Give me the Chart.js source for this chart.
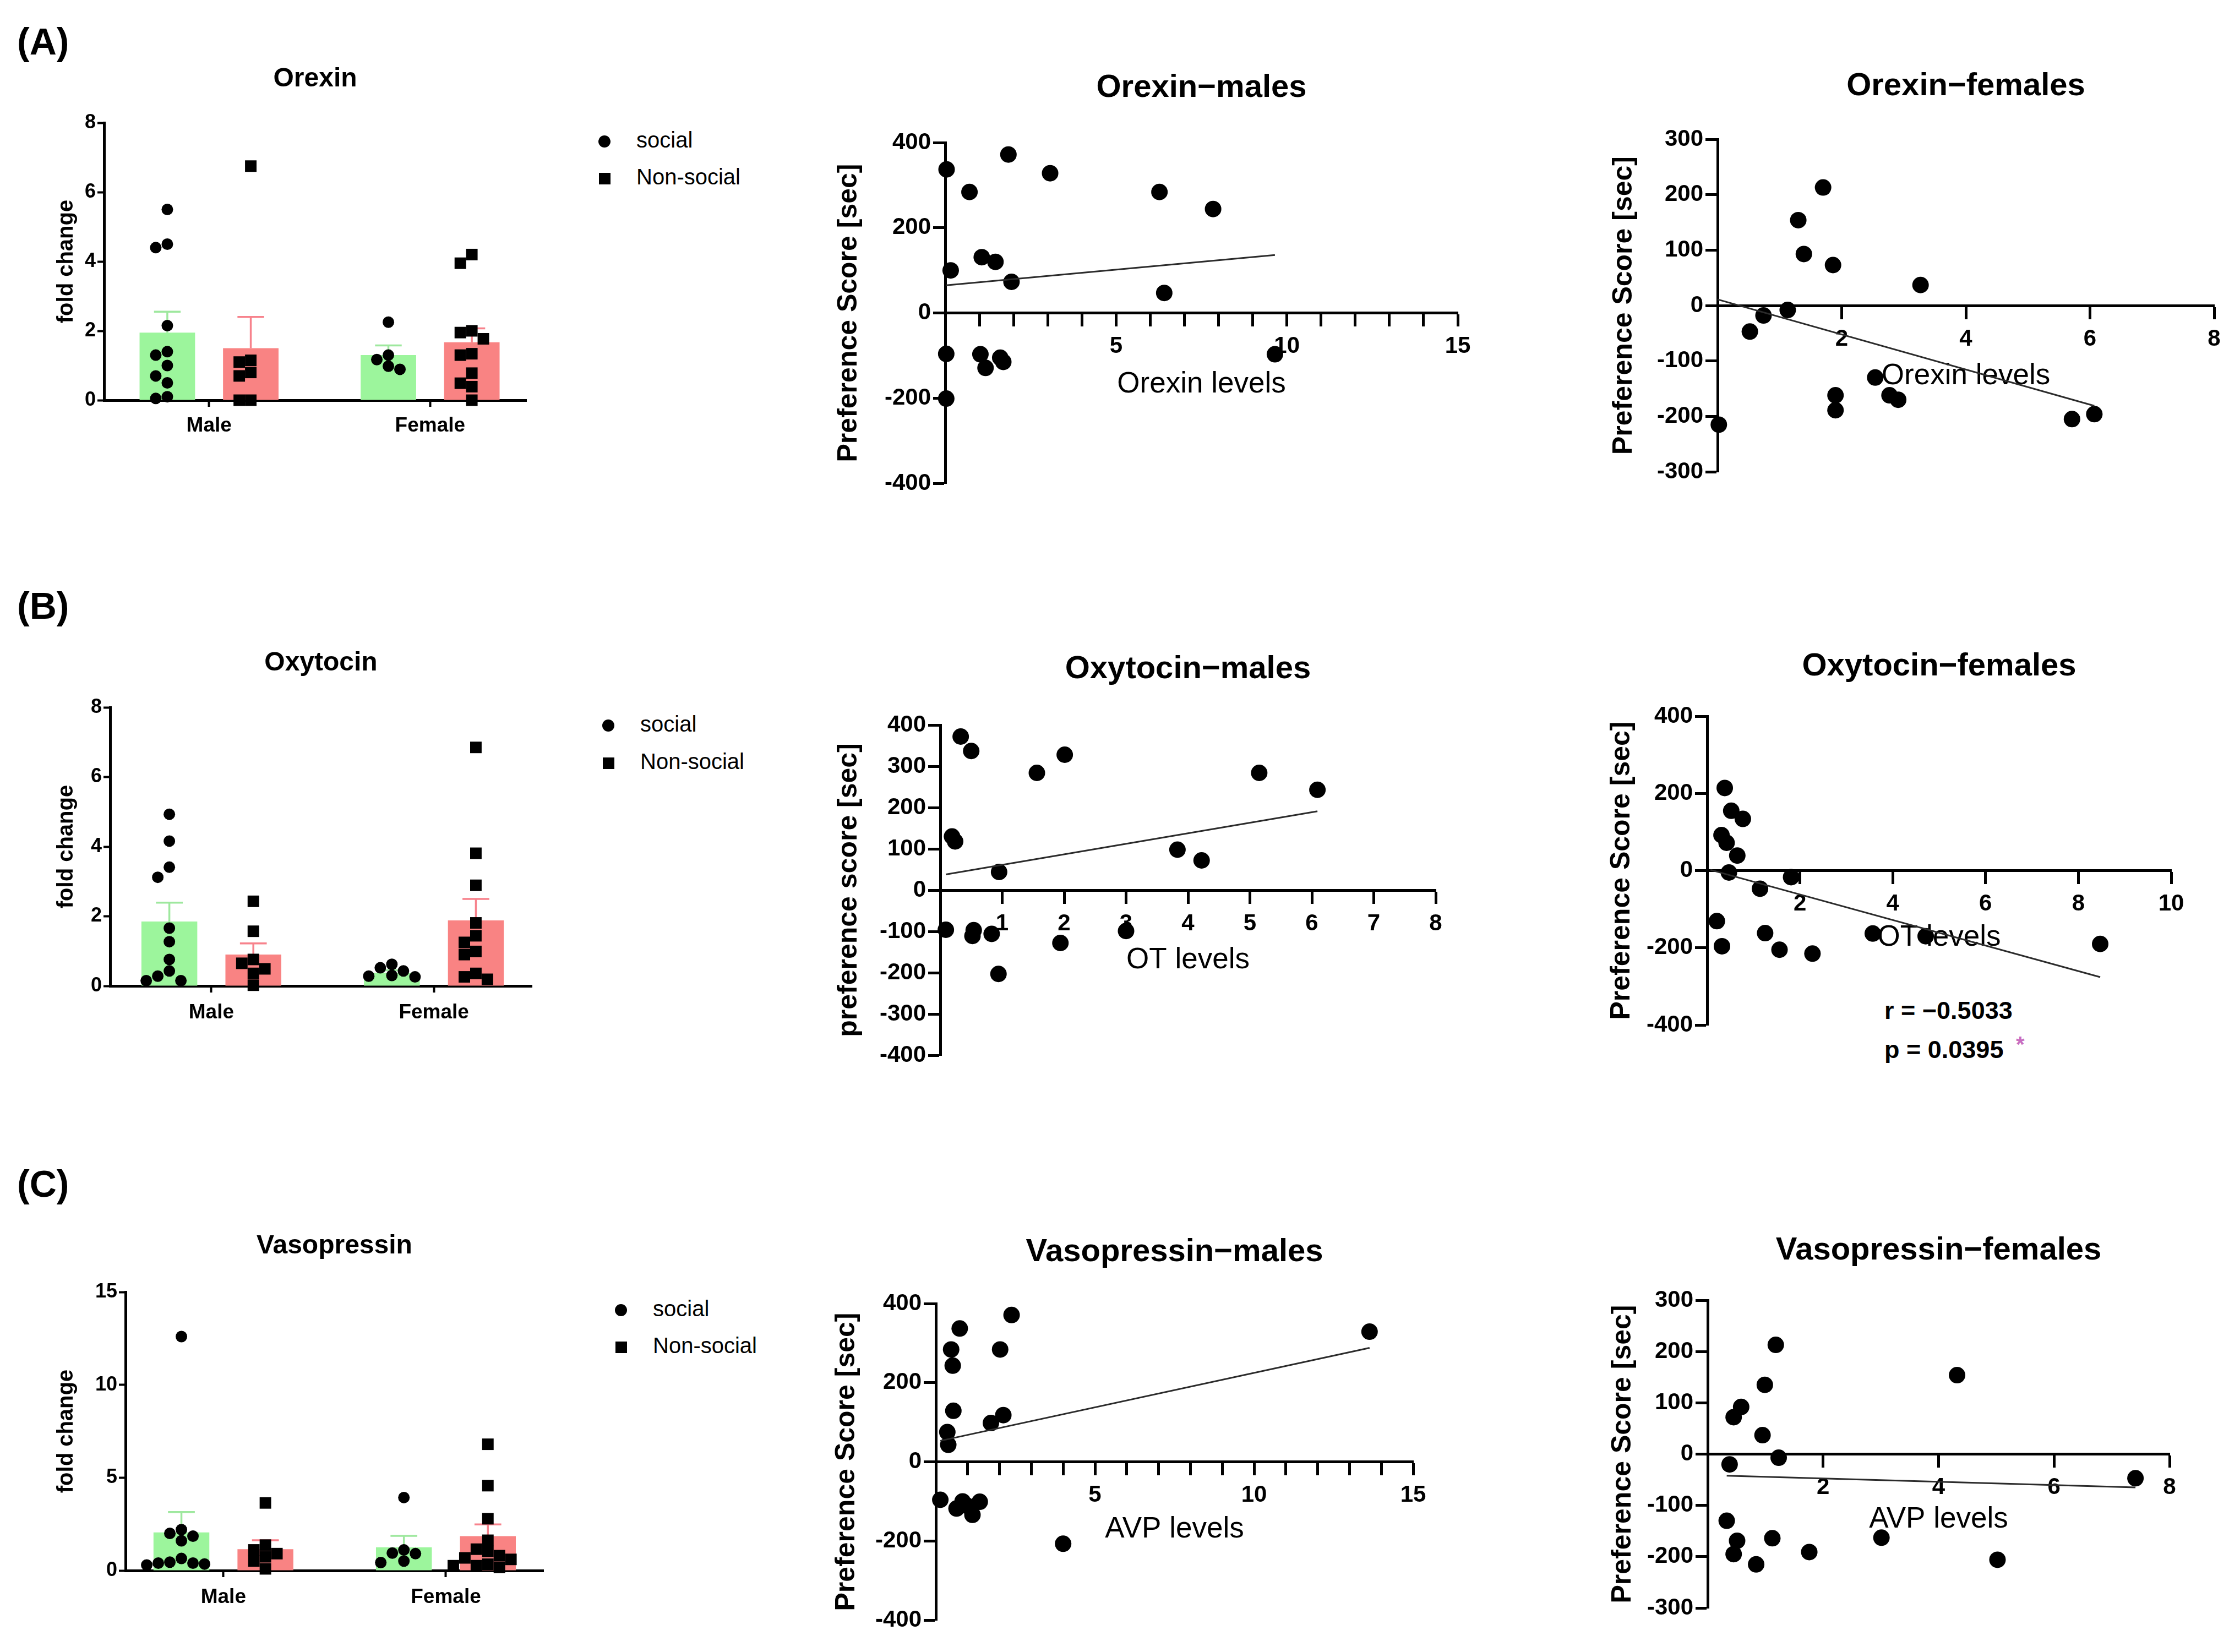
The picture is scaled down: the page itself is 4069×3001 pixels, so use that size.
<!DOCTYPE html>
<html>
<head>
<meta charset="utf-8">
<script src="https://cdn.jsdelivr.net/npm/chart.js@4.4.1/dist/chart.umd.min.js"></script>
<style>
html,body{margin:0;padding:0;background:#fff;}
body{width:4069px;height:3001px;position:relative;overflow:hidden;font-family:"Liberation Sans",Arial,sans-serif;color:#000;}
canvas{position:absolute;}
.txt{position:absolute;line-height:1;white-space:nowrap;color:#000;}
.panel{font-weight:bold;font-size:68px;}
.legtxt{font-size:40px;}
.mk{position:absolute;background:#000;}
.ann{font-weight:bold;font-size:45px;}
</style>
</head>
<body>
<div class="txt panel" style="left:31px;top:41px;">(A)</div>
<div class="txt panel" style="left:31px;top:1066px;">(B)</div>
<div class="txt panel" style="left:31px;top:2116px;">(C)</div>

<div id="legends"></div>

<div class="txt ann" style="left:3423px;top:1813px;">r = &#8722;0.5033</div>
<div class="txt ann" style="left:3423px;top:1884px;">p = 0.0395</div>
<div class="txt ann" style="left:3662px;top:1877px;color:#c86dc0;font-size:40px;">*</div>

<script>
// ---------------- DATA ----------------
const groupLabels = ['Male', 'Female'];
const legendLabels = ['social', 'Non-social'];

// Orexin fold change
const orexinSocialMale = [5.5, 4.4, 4.5, 2.15, 1.4, 1.3, 1.0, 0.7, 0.5, 0.05, 0.1];
const orexinNonSocialMale = [6.75, 1.1, 1.15, 0.7, 0.8, 0, 0];
const orexinSocialFemale = [2.25, 1.17, 1.3, 0.89, 0.98];
const orexinNonSocialFemale = [3.95, 4.2, 2.0, 1.95, 1.77, 1.34, 1.3, 0.78, 0.49, 0.39, 0.0];
const orexinSocialMean = [1.95, 1.30];
const orexinSocialSEM = [0.60, 0.28];
const orexinNonSocialMean = [1.50, 1.67];
const orexinNonSocialSEM = [0.90, 0.40];

// Oxytocin fold change
const oxySocialMale = [4.93, 4.16, 3.41, 3.12, 1.66, 1.27, 0.76, 0.43, 0.15, 0.15, 0.28];
const oxyNonSocialMale = [2.43, 1.57, 0.65, 0.76, 0.36, 0.49, 0.02];
const oxySocialFemale = [0.28, 0.52, 0.30, 0.43, 0.62, 0.26];
const oxyNonSocialFemale = [6.85, 3.81, 2.89, 1.81, 1.25, 1.44, 0.9, 0.99, 0.36, 0.19, 0.26];
const oxySocialMean = [1.85, 0.38];
const oxySocialSEM = [0.54, 0.07];
const oxyNonSocialMean = [0.90, 1.88];
const oxyNonSocialSEM = [0.32, 0.62];

// Vasopressin fold change
const avpSocialMale = [12.6, 2.2, 2.0, 1.85, 1.6, 0.65, 0.45, 0.4, 0.35, 0.3, 0.4];
const avpNonSocialMale = [3.64, 1.11, 1.37, 0.74, 0.91, 0.51, 0.09];
const avpSocialFemale = [3.93, 1.11, 0.94, 0.91, 0.43, 0.51];
const avpNonSocialFemale = [6.8, 4.57, 2.79, 1.63, 1.15, 1.03, 0.8, 0.68, 0.6, 0.26, 0.26, 0.34, 0.17];
const avpSocialMean = [2.05, 1.25];
const avpSocialSEM = [1.10, 0.62];
const avpNonSocialMean = [1.15, 1.85];
const avpNonSocialSEM = [0.48, 0.63];

// Correlations: x = hormone level, y = preference score [sec]
const orexinMalesX = [0.04, 0.71, 0.16, 1.07, 1.47, 1.85, 1.94, 3.07, 6.27, 7.84, 6.41, 9.65, 0.03, 1.03, 1.18, 1.61, 1.70, 0.03];
const orexinMalesY = [337, 284, 100, 131, 120, 372, 73, 328, 284, 244, 47, -97, -96, -97, -129, -105, -115, -201];
const orexinMalesFitX = [0.03, 9.65];
const orexinMalesFitY = [65, 136];

const orexinFemalesX = [0.02, 0.52, 0.74, 1.13, 1.30, 1.39, 1.70, 1.86, 1.90, 1.90, 2.54, 2.77, 2.91, 3.27, 5.71, 6.07];
const orexinFemalesY = [-215, -47, -18, -8, 154, 93, 213, 73, -162, -189, -130, -162, -170, 37, -205, -196];
const orexinFemalesFitX = [0.0, 6.07];
const orexinFemalesFitY = [11, -181];

const oxyMalesX = [0.33, 0.50, 0.19, 0.24, 0.95, 1.56, 2.01, 3.83, 4.22, 5.15, 6.09, 0.09, 0.52, 0.54, 0.83, 0.94, 1.94, 3.00];
const oxyMalesY = [372, 337, 130, 118, 44, 284, 328, 98, 72, 284, 243, -96, -111, -97, -106, -203, -128, -99];
const oxyMalesFitX = [0.09, 6.09];
const oxyMalesFitY = [38, 191];

const oxyFemalesX = [0.38, 0.52, 0.77, 0.31, 0.42, 0.65, 0.47, 1.81, 1.14, 0.21, 0.32, 1.25, 1.56, 2.27, 3.57, 4.71, 8.47];
const oxyFemalesY = [214, 155, 134, 92, 72, 39, -5, -17, -47, -131, -196, -162, -205, -215, -163, -170, -190];
const oxyFemalesFitX = [0.07, 8.47];
const oxyFemalesFitY = [2, -276];

const avpMalesX = [0.14, 0.65, 0.84, 0.98, 1.15, 1.38, 4.00, 0.36, 0.39, 0.55, 0.53, 0.48, 0.75, 1.73, 2.12, 2.02, 2.38, 13.63];
const avpMalesY = [-96, -118, -100, -111, -134, -101, -207, 75, 43, 129, 243, 284, 337, 98, 118, 284, 371, 329];
const avpMalesFitX = [0.14, 13.63];
const avpMalesFitY = [53, 288];

const avpFemalesX = [1.18, 4.32, 0.99, 0.58, 0.45, 0.95, 1.23, 0.38, 0.33, 0.51, 1.12, 0.45, 0.84, 1.76, 3.01, 5.02, 7.41];
const avpFemalesY = [213, 154, 135, 92, 72, 37, -7, -20, -130, -169, -164, -195, -215, -191, -163, -206, -47];
const avpFemalesFitX = [0.33, 7.41];
const avpFemalesFitY = [-42, -65];

// ---------------- STYLE ----------------
const FONT = "'Liberation Sans', Arial, sans-serif";
const GREEN = '#9cf59c', GREEN_ERR = '#9ee89e';
const RED = '#f98383', RED_ERR = '#f7828c';
Chart.defaults.font.family = FONT;
Chart.defaults.color = '#000';
Chart.defaults.animation = false;

function setupCanvas(left, top, right, bottom) {
  const cv = document.createElement('canvas');
  const l = Math.round(left), t = Math.round(top);
  const w = Math.round(right - l), h = Math.round(bottom - t);
  cv.width = w; cv.height = h;
  cv.style.left = l + 'px'; cv.style.top = t + 'px';
  cv.style.width = w + 'px'; cv.style.height = h + 'px';
  document.body.appendChild(cv);
  return {cv, l, t, w, h};
}

const errorBarPlugin = {
  id: 'errorBars',
  afterDatasetDraw(chart, args) {
    const ds = chart.data.datasets[args.index];
    if (!ds.sem) return;
    const ctx = chart.ctx, y = chart.scales.y;
    ctx.save();
    ctx.strokeStyle = ds.errColor;
    ctx.lineWidth = 3.5;
    args.meta.data.forEach((bar, i) => {
      const topPx = y.getPixelForValue(ds.data[i].y + ds.sem[i]);
      const cap = bar.width * 0.48;
      ctx.beginPath();
      ctx.moveTo(bar.x, bar.y);
      ctx.lineTo(bar.x, topPx);
      ctx.moveTo(bar.x - cap / 2, topPx);
      ctx.lineTo(bar.x + cap / 2, topPx);
      ctx.stroke();
    });
    ctx.restore();
  }
};

// spread the individual points of each group horizontally inside its bar (beeswarm)
function swarm(barChart, dotChart) {
  const xs = dotChart.scales.x, y = dotChart.scales.y;
  dotChart.data.datasets.forEach(ds => {
    const bar = barChart.getDatasetMeta(ds.swarm.bar).data[ds.swarm.cat];
    const cx = bar.x;
    const step = ds.pointStyle === 'rect' ? ds.pointRadius * Math.SQRT2 : ds.pointRadius * 2;
    const idx = ds.data.map((p, i) => i).sort((a, b) => ds.data[b].y - ds.data[a].y);
    const placed = [];
    const newData = ds.data.map(p => ({x: p.x, y: p.y}));
    idx.forEach(i => {
      const py = y.getPixelForValue(ds.data[i].y);
      for (const k of [0, -1, 1, -2, 2, -3, 3]) {
        const px = cx + k * step;
        if (!placed.some(q => Math.abs(q.x - px) < step * 0.9 && Math.abs(q.y - py) < step * 0.95)) {
          placed.push({x: px, y: py});
          newData[i].x = xs.getValueForPixel(px);
          break;
        }
      }
    });
    ds.data = newData;
  });
  dotChart.update('none');
}

function addLegend(cx, cy1, cy2, textLeft) {
  const box = document.getElementById('legends');
  const d = 22;
  box.insertAdjacentHTML('beforeend',
    `<div class="mk" style="left:${cx - d/2}px;top:${cy1 - d/2}px;width:${d}px;height:${d}px;border-radius:50%;"></div>` +
    `<div class="mk" style="left:${cx - 10.5}px;top:${cy2 - 10.5}px;width:21px;height:21px;"></div>` +
    `<div class="txt legtxt" style="left:${textLeft}px;top:${cy1 - 23}px;">${legendLabels[0]}</div>` +
    `<div class="txt legtxt" style="left:${textLeft}px;top:${cy2 - 23}px;">${legendLabels[1]}</div>`);
}

function makeBar(box, c) {
  const tF = 48, yF = 40, tkF = 36, cF = 37;
  const tLH = tF * 1.2, yLH = yF * 1.2, cLH = cF * 1.2;
  const padR = 40;
  const top = box.titleCY - tLH / 2;
  const left = box.yTitleCX - yLH / 2;
  const Hx = 90;
  const geo = setupCanvas(left, top, box.R + padR, box.B + Hx);
  const Wy = box.L - geo.l;
  const titlePB = box.T - geo.t - tLH;
  const catPad = box.labelCY - box.B - 12 - cLH / 2;
  const toXY = arr => arr.map((v, i) => ({x: i, y: v}));
  const catTicks = s => { s.ticks = groupLabels.map((g, i) => ({value: i})); };
  const barChart = new Chart(geo.cv, {
    type: 'bar',
    data: {datasets: [
      {label: legendLabels[0], data: toXY(c.sMean), sem: c.sSEM, backgroundColor: GREEN, errColor: GREEN_ERR,
       borderWidth: 0, categoryPercentage: 0.755, barPercentage: 0.665},
      {label: legendLabels[1], data: toXY(c.nMean), sem: c.nSEM, backgroundColor: RED, errColor: RED_ERR,
       borderWidth: 0, categoryPercentage: 0.755, barPercentage: 0.665}
    ]},
    plugins: [errorBarPlugin],
    options: {
      responsive: false, devicePixelRatio: 1, animation: false,
      layout: {padding: {left: 0, top: 0, right: padR, bottom: 0}},
      plugins: {
        legend: {display: false}, tooltip: {enabled: false},
        title: {display: true, text: c.title, fullSize: false, color: '#000',
                font: {size: tF, weight: 'bold', lineHeight: 1.2}, padding: {top: 0, bottom: titlePB}}
      },
      scales: {
        x: {type: 'linear', position: 'bottom', min: box.xMin, max: box.xMax, offset: false, z: 1,
            afterBuildTicks: catTicks,
            afterFit: s => { s.height = Hx; },
            border: {display: true, color: '#000', width: 5},
            grid: {display: true, offset: false, drawOnChartArea: false, drawTicks: true, tickLength: 12, tickWidth: 4, tickColor: '#000'},
            ticks: {padding: catPad, font: {size: cF, weight: 'bold'}, color: '#000', maxRotation: 0, autoSkip: false,
                    callback: v => groupLabels[v] !== undefined ? groupLabels[v] : ''}},
        y: {type: 'linear', position: 'left', min: 0, max: c.yMax,
            afterFit: s => { s.width = Wy; },
            border: {display: true, color: '#000', width: 5},
            grid: {display: true, drawOnChartArea: false, drawTicks: true, tickLength: 12, tickWidth: 4, tickColor: '#000'},
            ticks: {stepSize: c.yStep, padding: 3, font: {size: tkF, weight: 'bold'}, color: '#000'},
            title: {display: true, text: 'fold change', color: '#000', font: {size: yF, weight: 'bold', lineHeight: 1.2}, padding: 0}}
      }
    }
  });

  // individual animals: overlay chart sharing the same plotting area and axes ranges
  const ca = barChart.chartArea;
  const geo2 = setupCanvas(geo.l, geo.t, geo.l + geo.w, geo.t + geo.h);
  const groups = [
    {vals: c.sm, bar: 0, cat: 0, style: 'circle'},
    {vals: c.sf, bar: 0, cat: 1, style: 'circle'},
    {vals: c.nm, bar: 1, cat: 0, style: 'rect'},
    {vals: c.nf, bar: 1, cat: 1, style: 'rect'}
  ];
  const dotChart = new Chart(geo2.cv, {
    type: 'scatter',
    data: {datasets: groups.map(g => ({
      data: g.vals.map(v => ({x: g.cat, y: v})),
      pointStyle: g.style, pointRadius: g.style === 'rect' ? 14.8 : 10.5, pointHoverRadius: g.style === 'rect' ? 14.8 : 10.5,
      backgroundColor: '#000', borderWidth: 0, clip: false,
      swarm: {bar: g.bar, cat: g.cat}
    }))},
    options: {
      responsive: false, devicePixelRatio: 1, animation: false,
      layout: {padding: {left: ca.left, top: ca.top, right: geo.w - ca.right, bottom: geo.h - ca.bottom}},
      plugins: {legend: {display: false}, tooltip: {enabled: false}},
      scales: {
        x: {type: 'linear', display: false, min: box.xMin, max: box.xMax},
        y: {type: 'linear', display: false, min: 0, max: c.yMax}
      }
    }
  });
  swarm(barChart, dotChart);
}

function makeScatter(box, c) {
  const tF = 58, yF = 50, xF = 53, tkF = 42;
  const tLH = tF * 1.2, yLH = yF * 1.2, xLH = xF * 1.2;
  const padR = 50, padB = 40;
  const top = box.titleCY - tLH / 2;
  const left = box.yTitleCX - yLH / 2;
  const zeroPx = box.T + (box.B - box.T) * c.yMax / (c.yMax - c.yMin);
  const Hx = box.xTitleCY - zeroPx + xLH / 2;
  const geo = setupCanvas(left, top, box.R + padR, box.B + padB);
  const Wy = box.L - geo.l;
  const titlePB = box.T - geo.t - tLH;
  return new Chart(geo.cv, {
    type: 'scatter',
    data: {datasets: [
      {type: 'line', data: c.fitX.map((x, i) => ({x, y: c.fitY[i]})), borderColor: '#2b2b2b', borderWidth: 3,
       pointRadius: 0, pointHoverRadius: 0, fill: false, order: 0, clip: false},
      {type: 'scatter', data: c.xs.map((x, i) => ({x, y: c.ys[i]})), backgroundColor: '#000', borderWidth: 0,
       pointRadius: 15, pointHoverRadius: 15, order: 1, clip: false}
    ]},
    options: {
      responsive: false, devicePixelRatio: 1, animation: false,
      layout: {padding: {left: 0, top: 0, right: padR, bottom: padB}},
      plugins: {
        legend: {display: false}, tooltip: {enabled: false},
        title: {display: true, text: c.title, fullSize: false, color: '#000',
                font: {size: tF, weight: 'bold', lineHeight: 1.2}, padding: {top: 0, bottom: titlePB}}
      },
      scales: {
        x: {type: 'linear', position: {y: 0}, min: c.xMin, max: c.xMax,
            afterFit: s => { s.height = Hx; },
            border: {display: true, color: '#000', width: 5},
            grid: {display: true, drawOnChartArea: false, drawTicks: true, tickLength: 22, tickWidth: 5, tickColor: '#000'},
            ticks: {stepSize: c.xStep, autoSkip: false, padding: 14, maxRotation: 0, font: {size: tkF, weight: 'bold'}, color: '#000',
                    callback: v => (v === 0 || Math.round(v) % c.xLabelEvery !== 0) ? '' : String(v)},
            title: {display: true, text: c.xTitle, color: '#000', font: {size: xF, weight: 'normal', lineHeight: 1.2}, padding: 0}},
        y: {type: 'linear', position: 'left', min: c.yMin, max: c.yMax,
            afterFit: s => { s.width = Wy; },
            border: {display: true, color: '#000', width: 5},
            grid: {display: true, drawOnChartArea: false, drawTicks: true, tickLength: 22, tickWidth: 5, tickColor: '#000'},
            ticks: {stepSize: c.yStep, padding: 4, font: {size: tkF, weight: 'bold'}, color: '#000'},
            title: {display: true, text: c.yTitle, color: '#000', font: {size: yF, weight: 'bold', lineHeight: 1.2}, padding: 0}}
      }
    }
  });
}

// ---------------- BAR CHARTS ----------------
makeBar({L: 189, T: 223, R: 956, B: 727, titleCY: 144, yTitleCX: 121, labelCY: 774, xMin: -0.475, xMax: 1.435},
  {title: 'Orexin', yMax: 8, yStep: 2, sm: orexinSocialMale, sf: orexinSocialFemale, nm: orexinNonSocialMale, nf: orexinNonSocialFemale,
   sMean: orexinSocialMean, sSEM: orexinSocialSEM, nMean: orexinNonSocialMean, nSEM: orexinNonSocialSEM});
makeBar({L: 200, T: 1285, R: 966, B: 1791, titleCY: 1205, yTitleCX: 121, labelCY: 1840, xMin: -0.455, xMax: 1.44},
  {title: 'Oxytocin', yMax: 8, yStep: 2, sm: oxySocialMale, sf: oxySocialFemale, nm: oxyNonSocialMale, nf: oxyNonSocialFemale,
   sMean: oxySocialMean, sSEM: oxySocialSEM, nMean: oxyNonSocialMean, nSEM: oxyNonSocialSEM});
makeBar({L: 228, T: 2347, R: 987, B: 2853, titleCY: 2264, yTitleCX: 121, labelCY: 2902, xMin: -0.44, xMax: 1.438},
  {title: 'Vasopressin', yMax: 15, yStep: 5, sm: avpSocialMale, sf: avpSocialFemale, nm: avpNonSocialMale, nf: avpNonSocialFemale,
   sMean: avpSocialMean, sSEM: avpSocialSEM, nMean: avpNonSocialMean, nSEM: avpNonSocialSEM});

addLegend(1098, 257, 324, 1156);
addLegend(1105, 1318, 1386, 1163);
addLegend(1128, 2380, 2447, 1186);

// ---------------- SCATTER CHARTS ----------------
makeScatter({L: 1717, T: 259, R: 2648, B: 878, titleCY: 160, yTitleCX: 1542, xTitleCY: 698},
  {title: 'Orexin\u2212males', yTitle: 'Preference Score [sec]', xTitle: 'Orexin levels',
   xMin: 0, xMax: 15, xStep: 1, xLabelEvery: 5, yMin: -400, yMax: 400, yStep: 200,
   xs: orexinMalesX, ys: orexinMalesY, fitX: orexinMalesFitX, fitY: orexinMalesFitY});
makeScatter({L: 3120, T: 253, R: 4022, B: 857, titleCY: 157, yTitleCX: 2950, xTitleCY: 683},
  {title: 'Orexin\u2212females', yTitle: 'Preference Score [sec]', xTitle: 'Orexin levels',
   xMin: 0, xMax: 8, xStep: 2, xLabelEvery: 2, yMin: -300, yMax: 300, yStep: 100,
   xs: orexinFemalesX, ys: orexinFemalesY, fitX: orexinFemalesFitX, fitY: orexinFemalesFitY});
makeScatter({L: 1708, T: 1317, R: 2608, B: 1917, titleCY: 1216, yTitleCX: 1542, xTitleCY: 1744},
  {title: 'Oxytocin\u2212males', yTitle: 'preference score [sec]', xTitle: 'OT levels',
   xMin: 0, xMax: 8, xStep: 1, xLabelEvery: 1, yMin: -400, yMax: 400, yStep: 100,
   xs: oxyMalesX, ys: oxyMalesY, fitX: oxyMalesFitX, fitY: oxyMalesFitY});
makeScatter({L: 3101, T: 1301, R: 3944, B: 1862, titleCY: 1211, yTitleCX: 2946, xTitleCY: 1703},
  {title: 'Oxytocin\u2212females', yTitle: 'Preference Score [sec]', xTitle: 'OT levels',
   xMin: 0, xMax: 10, xStep: 2, xLabelEvery: 2, yMin: -400, yMax: 400, yStep: 200,
   xs: oxyFemalesX, ys: oxyFemalesY, fitX: oxyFemalesFitX, fitY: oxyFemalesFitY});
makeScatter({L: 1700, T: 2368, R: 2567, B: 2943, titleCY: 2275, yTitleCX: 1538, xTitleCY: 2778},
  {title: 'Vasopressin\u2212males', yTitle: 'Preference Score [sec]', xTitle: 'AVP levels',
   xMin: 0, xMax: 15, xStep: 1, xLabelEvery: 5, yMin: -400, yMax: 400, yStep: 200,
   xs: avpMalesX, ys: avpMalesY, fitX: avpMalesFitX, fitY: avpMalesFitY});
makeScatter({L: 3102, T: 2362, R: 3941, B: 2921, titleCY: 2272, yTitleCX: 2948, xTitleCY: 2760},
  {title: 'Vasopressin\u2212females', yTitle: 'Preference Score [sec]', xTitle: 'AVP levels',
   xMin: 0, xMax: 8, xStep: 2, xLabelEvery: 2, yMin: -300, yMax: 300, yStep: 100,
   xs: avpFemalesX, ys: avpFemalesY, fitX: avpFemalesFitX, fitY: avpFemalesFitY});
</script>
</body>
</html>
